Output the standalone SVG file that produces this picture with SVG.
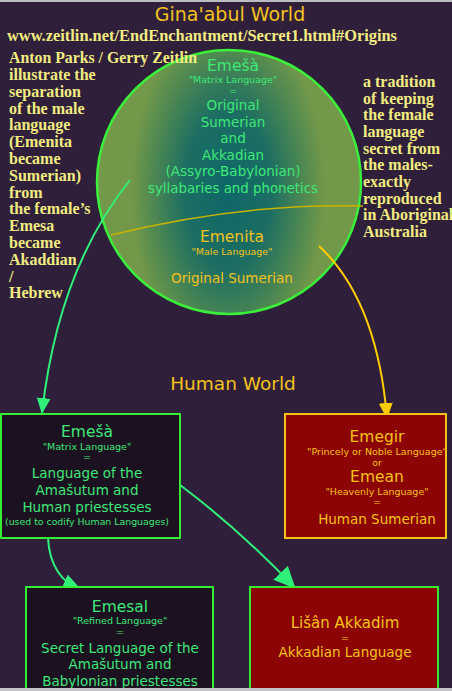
<svg xmlns="http://www.w3.org/2000/svg" width="452" height="691" viewBox="0 0 452 691">
<defs>
<radialGradient id="gc" gradientUnits="userSpaceOnUse" cx="228" cy="190" r="135" gradientTransform="translate(228 190) scale(0.72 1.3) translate(-228 -190)">
<stop offset="0" stop-color="#0e6668"/>
<stop offset="0.45" stop-color="#1c6e62"/>
<stop offset="0.85" stop-color="#5a8e4e"/>
<stop offset="1" stop-color="#74984a"/>
</radialGradient>
<marker id="ag" viewBox="0 0 16 14" refX="15" refY="7" markerWidth="16" markerHeight="14" markerUnits="userSpaceOnUse" orient="auto"><path d="M0,0 L16,7 L0,14 Z" fill="#30f07a"/></marker>
<marker id="agb" viewBox="0 0 22 20" refX="21" refY="10" markerWidth="22" markerHeight="20" markerUnits="userSpaceOnUse" orient="auto"><path d="M0,0 L22,10 L0,20 Z" fill="#30f07a"/></marker>
<marker id="ay" viewBox="0 0 16 14" refX="15" refY="7" markerWidth="16" markerHeight="14" markerUnits="userSpaceOnUse" orient="auto"><path d="M0,0 L16,7 L0,14 Z" fill="#ffcc00"/></marker>
</defs>
<style>
.slab{font-family:"Liberation Serif","DejaVu Serif",serif;font-weight:bold;font-size:16px;fill:#f2ec80}
.eu{font-family:"DejaVu Sans","Liberation Sans",sans-serif;text-anchor:middle}
.g{fill:#3ee878}
.y{fill:#f4c21c}
.big{font-size:15.5px}
.mid{font-size:13.5px}
.sm{font-size:9.5px}
.gbox{fill:#1c1120;stroke:#33ee33;stroke-width:2}
.rbox{fill:#8c0404}
.conn{fill:none;stroke-width:2}
</style>
<rect width="452" height="691" fill="#2f1f3a"/>
<rect x="0" y="0" width="452" height="2" fill="#bcbcc4"/>

<text class="eu y" x="230" y="21" font-size="19">Gina'abul World</text>
<text class="slab" x="7" y="41" font-size="13.5" textLength="390" lengthAdjust="spacingAndGlyphs">www.zeitlin.net/EndEnchantment/Secret1.html#Origins</text>

<g id="circle">
<circle cx="229" cy="182" r="132" fill="url(#gc)" stroke="#3af03a" stroke-width="2.5"/>
<path d="M111,235 Q240,203 363,206" fill="none" stroke="#c8b400" stroke-width="1.5"/>
<text class="eu g big" x="233" y="71">Emešà</text>
<text class="eu g sm" x="233" y="83">"Matrix Language"</text>
<text class="eu g sm" x="233" y="94">=</text>
<text class="eu g mid" x="233" y="110">Original</text>
<text class="eu g mid" x="233" y="127">Sumerian</text>
<text class="eu g mid" x="233" y="143">and</text>
<text class="eu g mid" x="233" y="160">Akkadian</text>
<text class="eu g mid" x="233" y="176">(Assyro-Babylonian)</text>
<text class="eu g mid" x="233" y="193" textLength="170" lengthAdjust="spacingAndGlyphs">syllabaries and phonetics</text>
<text class="eu y big" x="232" y="242">Emenita</text>
<text class="eu y sm" x="232" y="255">"Male Language"</text>
<text class="eu y mid" x="232" y="283">Original Sumerian</text>
</g>

<g id="left-note">
<text class="slab" x="9" y="63" textLength="188" lengthAdjust="spacingAndGlyphs">Anton Parks / Gerry Zeitlin</text>
<text class="slab" x="9" y="80">illustrate the</text>
<text class="slab" x="9" y="97">separation</text>
<text class="slab" x="9" y="114">of the male</text>
<text class="slab" x="9" y="130">language</text>
<text class="slab" x="9" y="147">(Emenita</text>
<text class="slab" x="9" y="164">became</text>
<text class="slab" x="9" y="181">Sumerian)</text>
<text class="slab" x="9" y="198">from</text>
<text class="slab" x="9" y="214">the female’s</text>
<text class="slab" x="9" y="231">Emesa</text>
<text class="slab" x="9" y="248">became</text>
<text class="slab" x="9" y="265">Akaddian</text>
<text class="slab" x="9" y="282">/</text>
<text class="slab" x="9" y="298">Hebrew</text>
</g>

<g id="right-note">
<text class="slab" x="363" y="87">a tradition</text>
<text class="slab" x="363" y="104">of keeping</text>
<text class="slab" x="363" y="120">the female</text>
<text class="slab" x="363" y="137">language</text>
<text class="slab" x="363" y="154">secret from</text>
<text class="slab" x="363" y="170">the males-</text>
<text class="slab" x="363" y="187">exactly</text>
<text class="slab" x="363" y="204">reproduced</text>
<text class="slab" x="363" y="220">in Aboriginal</text>
<text class="slab" x="363" y="237">Australia</text>
</g>

<text class="eu y" x="233" y="390" font-size="18.5">Human World</text>

<g id="connectors">
<path class="conn" d="M130,180 Q58,270 42,413" stroke="#30f07a" marker-end="url(#ag)"/>
<path class="conn" d="M319,246 Q377,300 387,418" stroke="#ffcc00" marker-end="url(#ay)"/>
<path class="conn" d="M48,538 Q50,578 83,592" stroke="#30f07a" stroke-width="3" marker-end="url(#agb)"/>
<path class="conn" d="M180,485 Q240,530 295,588" stroke="#30f07a" marker-end="url(#agb)"/>
</g>

<g id="emesa">
<rect class="gbox" x="1" y="414" width="179" height="124"/>
<text class="eu g big" x="87" y="437">Emešà</text>
<text class="eu g sm" x="87" y="450">"Matrix Language"</text>
<text class="eu g sm" x="87" y="460">=</text>
<text class="eu g mid" x="87" y="478">Language of the</text>
<text class="eu g mid" x="87" y="495">Amašutum and</text>
<text class="eu g mid" x="87" y="512">Human priestesses</text>
<text class="eu g" x="87" y="525" font-size="9.5" textLength="164" lengthAdjust="spacingAndGlyphs">(used to codify Human Languages)</text>
</g>

<g id="emegir">
<rect class="rbox" x="285" y="414" width="161" height="124" stroke="#f4c21c" stroke-width="2"/>
<text class="eu y big" x="377" y="442">Emegir</text>
<text class="eu y sm" x="377" y="455" textLength="140" lengthAdjust="spacingAndGlyphs">"Princely or Noble Language"</text>
<text class="eu y sm" x="377" y="466">or</text>
<text class="eu y big" x="377" y="482">Emean</text>
<text class="eu y sm" x="377" y="495">"Heavenly Language"</text>
<text class="eu y sm" x="377" y="505">=</text>
<text class="eu y mid" x="377" y="524">Human Sumerian</text>
</g>

<g id="emesal">
<rect class="gbox" x="26" y="587" width="187" height="110"/>
<text class="eu g big" x="120" y="612">Emesal</text>
<text class="eu g sm" x="120" y="624">"Refined Language"</text>
<text class="eu g sm" x="120" y="635">=</text>
<text class="eu g mid" x="120" y="653">Secret Language of the</text>
<text class="eu g mid" x="120" y="669">Amašutum and</text>
<text class="eu g mid" x="120" y="686">Babylonian priestesses</text>
</g>

<g id="lisan">
<rect class="rbox" x="250" y="587" width="188" height="110" stroke="#33ee33" stroke-width="2"/>
<text class="eu y" x="345" y="628" font-size="15">Lišân Akkadim</text>
<text class="eu y sm" x="345" y="641">=</text>
<text class="eu y mid" x="345" y="657">Akkadian Language</text>
</g>
<rect x="0" y="688" width="452" height="3" fill="#c4c4c8"/>
</svg>
